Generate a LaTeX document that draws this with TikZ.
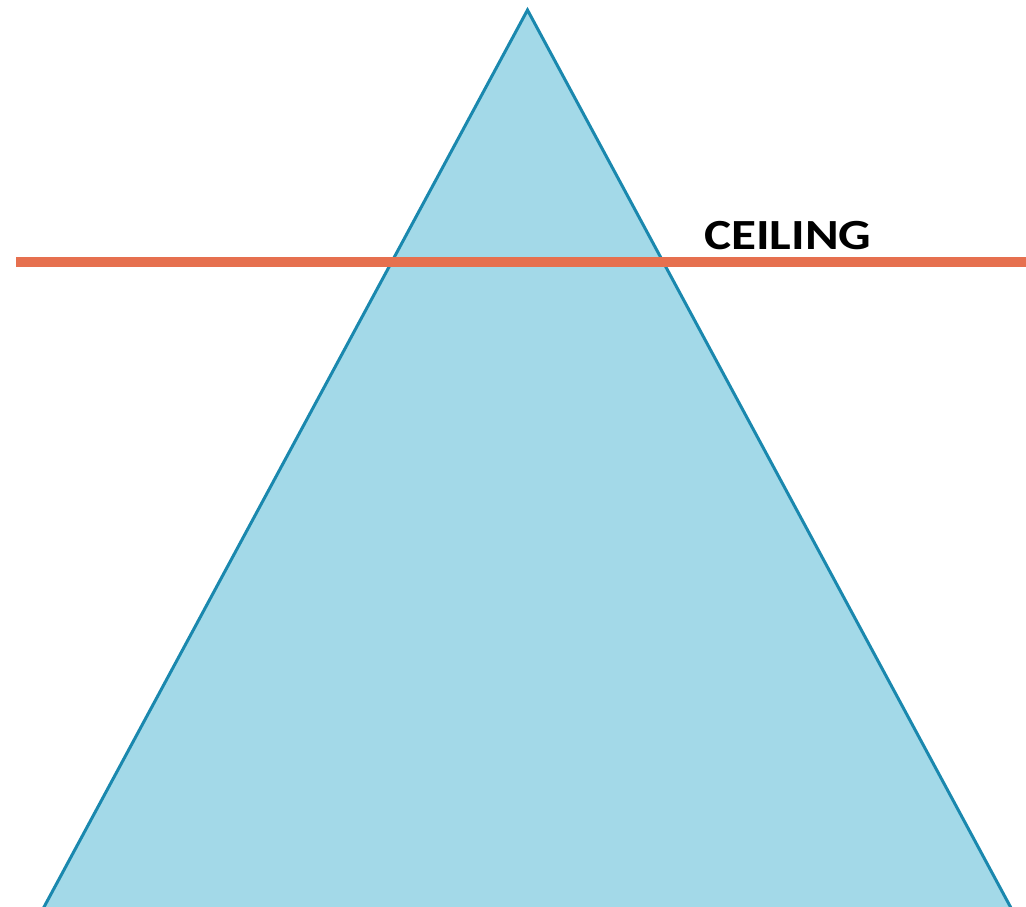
\documentclass[tikz,border=0pt]{standalone}
\usepackage{fontspec}
\setmainfont{Carlito}
\definecolor{tri}{HTML}{A3D9E8}
\definecolor{triedge}{HTML}{1A88AE}
\definecolor{ceil}{HTML}{E6704F}
\begin{document}
\begin{tikzpicture}[x=1pt,y=-1pt,
  tristyle/.style={fill=tri,draw=triedge,line width=3pt,line join=miter},
  ceilline/.style={draw=ceil,line width=10pt},
  lbl/.style={font=\bfseries\fontsize{43}{44}\selectfont,anchor=base west,inner sep=0pt,xscale=1.19}]
\useasboundingbox (0,0) rectangle (1026,906);
\clip (0,0) rectangle (1026,906);
\coordinate (apex) at (527.5,10);
\coordinate (bl) at (37,920);
\coordinate (br) at (1017.5,920);
\path[tristyle] (apex) -- (br) -- (bl) -- cycle;
\coordinate (c1) at (16,261.5);
\coordinate (c2) at (1030,261.5);
\draw[ceilline] (c1) -- (c2);
\node[lbl] (ceiling) at (704,249) {CEILING};
\end{tikzpicture}
\end{document}
